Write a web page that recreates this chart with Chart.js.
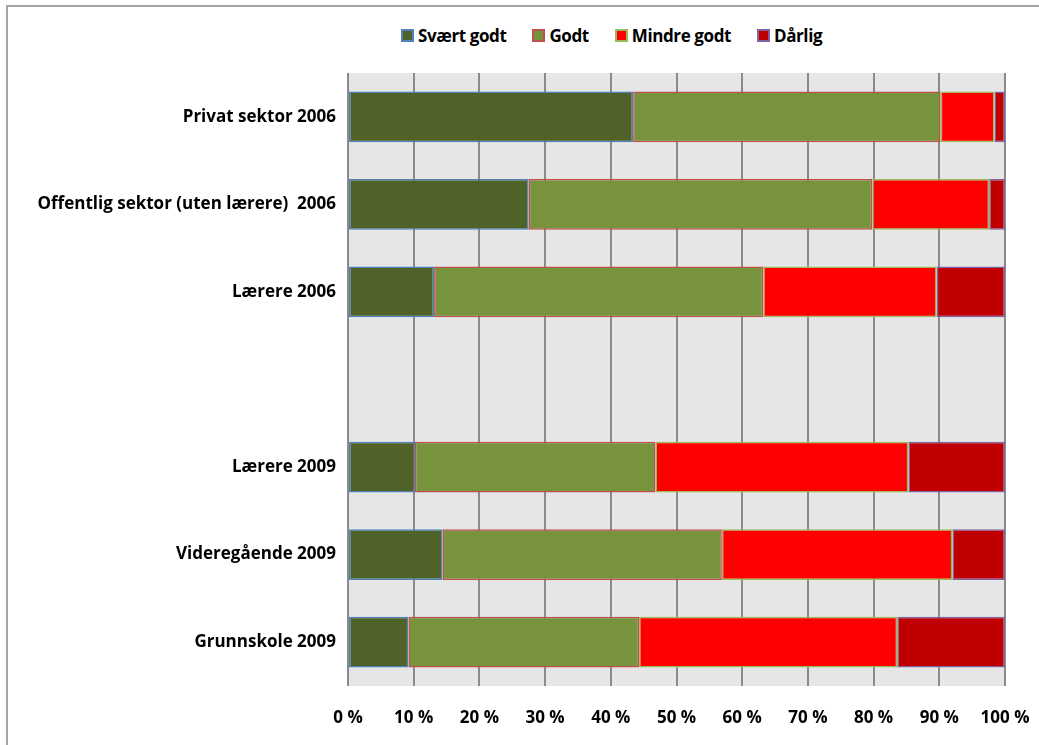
<!DOCTYPE html>
<html>
<head>
<meta charset="utf-8">
<script src="https://cdn.jsdelivr.net/npm/chart.js@4/dist/chart.umd.min.js"></script>
<style>
  body { margin: 0; background: #fff; font-family: 'Open Sans', sans-serif; }
  #wrap { position: relative; width: 1039px; height: 745px; overflow: hidden; }
  #frame { position: absolute; left: 6px; top: 5px; width: 1060px; height: 780px; border: 2px solid #a6a6a6; }
  #legend { position: absolute; top: 24px; left: 401px; display: flex; font-weight: bold; font-size: 17px; color: #000; letter-spacing: -0.4px; }
  #legend .item { display: flex; align-items: center; margin-right: 26px; }
  #legend .box { width: 9px; height: 9px; border: 2px solid; margin-right: 4px; }
  canvas { position: absolute; left: 0; top: 0; }
</style>
</head>
<body>
<div id="wrap">
  <div id="frame"></div>
  <div id="legend"></div>
  <canvas id="chart" width="1039" height="745"></canvas>
</div>
<script>
// kategorier (tom rad mellom 2006 og 2009)
const categories = [
    'Privat sektor 2006',
    'Offentlig sektor (uten lærere)  2006',
    'Lærere 2006',
    '',
    'Lærere 2009',
    'Videregående 2009',
    'Grunnskole 2009'
];

const seriesNames = ['Svært godt', 'Godt', 'Mindre godt', 'Dårlig'];

// andeler i prosent, lest av bildet
const svaertGodt = [43.4, 27.5, 13.1, null, 10.2, 14.4, 9.2];
const godt       = [46.8, 52.3, 50.1, null, 36.6, 42.5, 35.1];
const mindreGodt = [8.2, 17.8, 26.4, null, 38.5, 35.1, 39.3];
const daarlig    = [1.6, 2.4, 10.4, null, 14.7, 8.0, 16.4];

const xTicks = [0, 10, 20, 30, 40, 50, 60, 70, 80, 90, 100];

const fills   = ['#4F6228', '#77933C', '#FF0000', '#C00000'];
const borders = ['#4F81BD', '#C0504D', '#9BBB59', '#8064A2'];
const values  = [svaertGodt, godt, mindreGodt, daarlig];

// legende som html
const legendEl = document.getElementById('legend');
seriesNames.forEach((name, i) => {
    const item = document.createElement('div');
    item.className = 'item';
    item.innerHTML = `<span class="box" style="background:${fills[i]};border-color:${borders[i]}"></span>${name}`;
    legendEl.appendChild(item);
});

// grå bakgrunn i plottområdet
const plotBg = {
    id: 'plotBg',
    beforeDraw(chart) {
        const { ctx, chartArea: a } = chart;
        ctx.save();
        ctx.fillStyle = '#e6e6e6';
        ctx.fillRect(a.left, a.top, a.right - a.left, a.bottom - a.top);
        ctx.restore();
    }
};

const font = { family: "'Open Sans', sans-serif", size: 17, weight: 'bold' };

new Chart(document.getElementById('chart').getContext('2d'), {
    type: 'bar',
    data: {
        labels: categories,
        datasets: seriesNames.map((name, i) => ({
            label: name,
            data: values[i],
            backgroundColor: fills[i],
            borderColor: borders[i],
            borderWidth: 1.5,
            borderSkipped: false,
            categoryPercentage: 1,
            barPercentage: 0.58
        }))
    },
    options: {
        indexAxis: 'y',
        responsive: false,
        animation: false,
        layout: { padding: { top: 73, right: 34, left: 0, bottom: 0 } },
        plugins: {
            legend: { display: false },
            tooltip: { enabled: false }
        },
        scales: {
            x: {
                stacked: true,
                min: 0,
                max: 100,
                afterBuildTicks(scale) {
                    scale.ticks = xTicks.map(v => ({ value: v }));
                },
                afterFit(scale) {
                    scale.height = 59;
                    scale.paddingLeft = 0;
                    scale.paddingRight = 0;
                },
                grid: { color: '#8a8a8a', lineWidth: 2, drawTicks: false },
                border: { display: false },
                ticks: {
                    color: '#000',
                    font: font,
                    padding: 22,
                    maxRotation: 0,
                    callback: v => v + ' %'
                }
            },
            y: {
                stacked: true,
                afterFit(scale) { scale.width = 348; },
                grid: { display: false, drawTicks: false },
                border: { display: false },
                ticks: { color: '#000', font: font, padding: 12 }
            }
        }
    },
    plugins: [plotBg]
});
</script>
</body>
</html>
